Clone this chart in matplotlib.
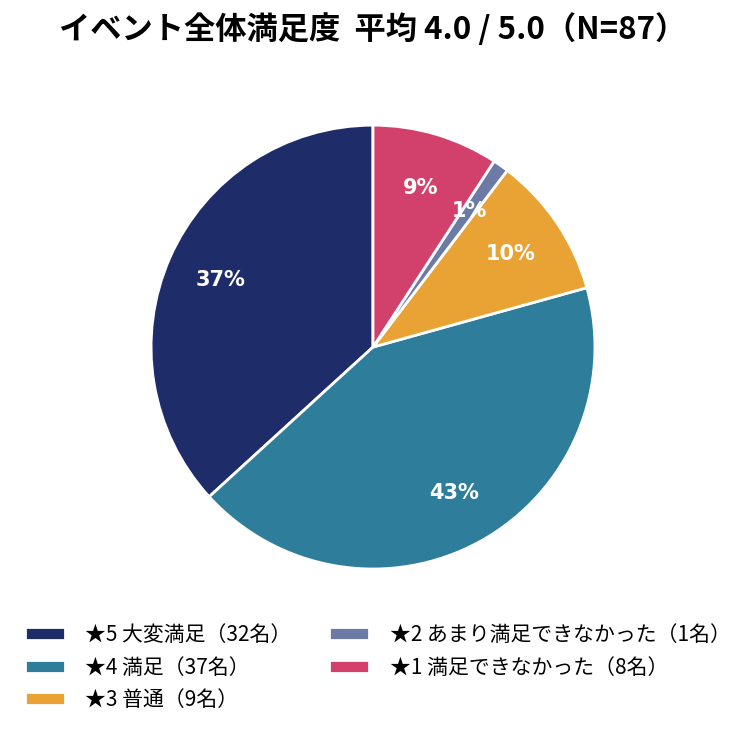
import matplotlib
matplotlib.use("Agg")
import matplotlib.pyplot as plt

plt.rcParams['font.family'] = ['Noto Sans CJK JP', 'DejaVu Sans']

# data
labels = ['★5 大変満足（32名）', '★4 満足（37名）', '★3 普通（9名）',
          '★2 あまり満足できなかった（1名）', '★1 満足できなかった（8名）']
counts = [32, 37, 9, 1, 8]
colors = ['#1f2c6a', '#2e7d9b', '#e9a234', '#6c7ba6', '#d2416b']
title = 'イベント全体満足度  平均 4.0 / 5.0（N=87）'

fig = plt.figure(figsize=(7.46, 7.31), dpi=100)
ax = fig.add_axes([0.128, 0.1457, 0.744, 0.759])

wedges, texts, autotexts = ax.pie(
    counts, colors=colors, startangle=90, counterclock=True,
    autopct='%1.0f%%', pctdistance=0.75,
    wedgeprops=dict(edgecolor='white', linewidth=2))
for t in autotexts:
    t.set_color('white')
    t.set_fontweight('bold')
    t.set_fontsize(15)
    t.set_family(['DejaVu Sans', 'Noto Sans CJK JP'])
ax.set_aspect('equal')

fig.text(0.5, 0.959, title, ha='center', va='center',
         fontsize=22.5, fontweight='bold')

fig.legend(wedges, labels, loc='upper left', bbox_to_anchor=(0.0335, 0.146),
           ncol=2, frameon=False, fontsize=15,
           borderpad=0, borderaxespad=0,
           handlelength=1.9, handleheight=0.58, handletextpad=1.0,
           labelspacing=0.5, columnspacing=1.8)

fig.savefig('out.png', dpi=100)
